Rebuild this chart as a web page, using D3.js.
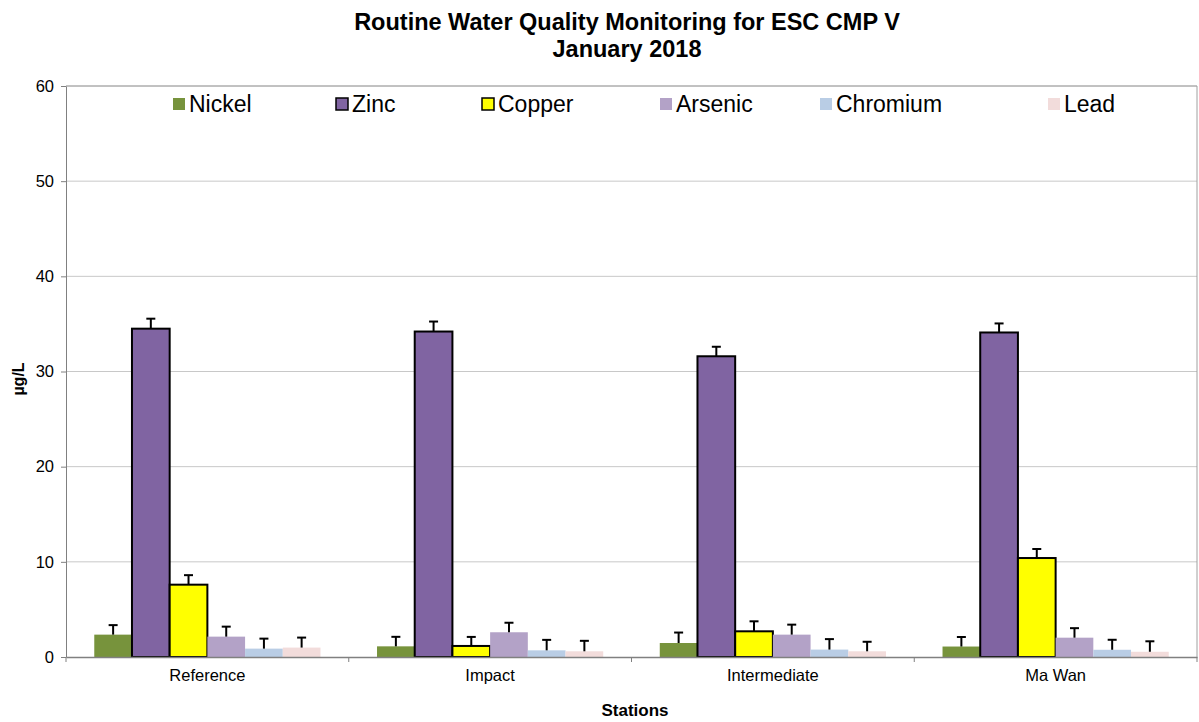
<!DOCTYPE html>
<html><head><meta charset="utf-8">
<script src="https://cdn.jsdelivr.net/npm/d3@7"></script>
<style>body{margin:0;background:#fff;font-family:"Liberation Sans",Arial,sans-serif}</style>
</head><body><svg id="c" width="1199" height="722"></svg>
<script>
const stations = ["Reference","Impact","Intermediate","Ma Wan"];
const metals = ["Nickel","Zinc","Copper","Arsenic","Chromium","Lead"];
const colors = ["#77933C","#8064A2","#FFFF00","#B3A2C7","#B9CDE5","#F2DCDB"];
const outlined = [false,true,true,false,false,false];
const nickel   = [2.35,1.12,1.47,1.10];
const zinc     = [34.5,34.2,31.6,34.1];
const copper   = [7.6,1.16,2.7,10.4];
const arsenic  = [2.14,2.6,2.35,2.03];
const chromium = [0.88,0.70,0.78,0.76];
const lead     = [0.99,0.60,0.60,0.55];
const errNickel   = [1.0,1.0,1.1,1.0];
const errZinc     = [1.05,1.05,1.0,0.95];
const errCopper   = [1.0,0.95,1.05,0.95];
const errArsenic  = [1.05,1.0,1.05,1.0];
const errChromium = [1.05,1.1,1.1,1.05];
const errLead     = [1.05,1.1,1.0,1.1];
const yTicks = [0,10,20,30,40,50,60];

const values = [nickel,zinc,copper,arsenic,chromium,lead];
const errs = [errNickel,errZinc,errCopper,errArsenic,errChromium,errLead];

const svg = d3.select("#c");
const L=66, R=1197, T=86, B=657;
const x0 = d3.scaleBand().domain(stations).range([L,R]).paddingInner(0).paddingOuter(0);
const x1 = d3.scaleBand().domain(metals).range([0,x0.bandwidth()]).paddingOuter(0.75).paddingInner(0);
const y = d3.scaleLinear().domain([0,60]).range([B,T]);

// gridlines
svg.append("g").selectAll("line").data(yTicks.filter(d=>d>0)).join("line")
  .attr("x1",L).attr("x2",R).attr("y1",d=>y(d)).attr("y2",d=>y(d))
  .attr("stroke","#c8c8c8").attr("stroke-width",1);
svg.append("line").attr("x1",R).attr("x2",R).attr("y1",T).attr("y2",B).attr("stroke","#a0a0a0");
svg.append("line").attr("x1",L).attr("x2",R).attr("y1",T).attr("y2",T).attr("stroke","#a0a0a0");

// bars
const g = svg.append("g");
stations.forEach((s,i)=>{
  metals.forEach((m,j)=>{
    const v = values[j][i], e = errs[j][i];
    const bx = x0(s)+x1(m), bw = x1.bandwidth();
    g.append("rect").attr("x",bx).attr("y",y(v)).attr("width",bw).attr("height",y(0)-y(v))
      .attr("fill",colors[j])
      .attr("stroke",outlined[j]?"#000":"none").attr("stroke-width",outlined[j]?2:0);
    const cx = bx+bw/2;
    g.append("line").attr("x1",cx).attr("x2",cx).attr("y1",y(v)).attr("y2",y(v+e)).attr("stroke","#000").attr("stroke-width",2);
    g.append("line").attr("x1",cx-4.5).attr("x2",cx+4.5).attr("y1",y(v+e)).attr("y2",y(v+e)).attr("stroke","#000").attr("stroke-width",2);
  });
});

// axes
const ya = svg.append("g").attr("transform",`translate(${L},0)`)
  .call(d3.axisLeft(y).tickValues(yTicks).tickSize(5).tickSizeOuter(0));
ya.select(".domain").attr("stroke","#808080");
ya.selectAll(".tick line").attr("stroke","#808080");
ya.selectAll("text").attr("font-size",16.5).attr("font-family","Liberation Sans, Arial, sans-serif").attr("fill","#000").attr("dx",-4);

const xa = svg.append("g").attr("transform",`translate(0,${B})`)
  .call(d3.axisBottom(x0).tickSize(0).tickSizeOuter(0));
xa.select(".domain").attr("stroke","#808080").attr("stroke-width",1.5);
xa.selectAll("text").attr("font-size",16.5).attr("font-family","Liberation Sans, Arial, sans-serif").attr("fill","#000").attr("dy","1.3em");
svg.append("g").selectAll("line").data(d3.range(stations.length+1)).join("line")
  .attr("x1",i=>L+i*x0.bandwidth()).attr("x2",i=>L+i*x0.bandwidth())
  .attr("y1",B).attr("y2",B+5).attr("stroke","#808080");

// titles
svg.append("text").attr("x",627).attr("y",30).attr("text-anchor","middle")
  .attr("font-size",23.5).attr("font-weight","bold").text("Routine Water Quality Monitoring for ESC CMP V");
svg.append("text").attr("x",627).attr("y",57).attr("text-anchor","middle")
  .attr("font-size",23.5).attr("font-weight","bold").text("January 2018");
svg.append("text").attr("x",635).attr("y",716).attr("text-anchor","middle")
  .attr("font-size",17).attr("font-weight","bold").text("Stations");
svg.append("text").attr("transform","translate(24,379) rotate(-90)").attr("text-anchor","middle")
  .attr("font-size",16).attr("font-weight","bold").text("µg/L");

// legend
const legX = [173,336,482,660,820,1048];
const lg = svg.append("g");
metals.forEach((m,j)=>{
  lg.append("rect").attr("x",legX[j]).attr("y",98).attr("width",12).attr("height",12)
    .attr("fill",colors[j]).attr("stroke",outlined[j]?"#000":"none").attr("stroke-width",outlined[j]?1.5:0);
  lg.append("text").attr("x",legX[j]+16).attr("y",112).attr("font-size",23).text(m);
});
</script></body></html>
